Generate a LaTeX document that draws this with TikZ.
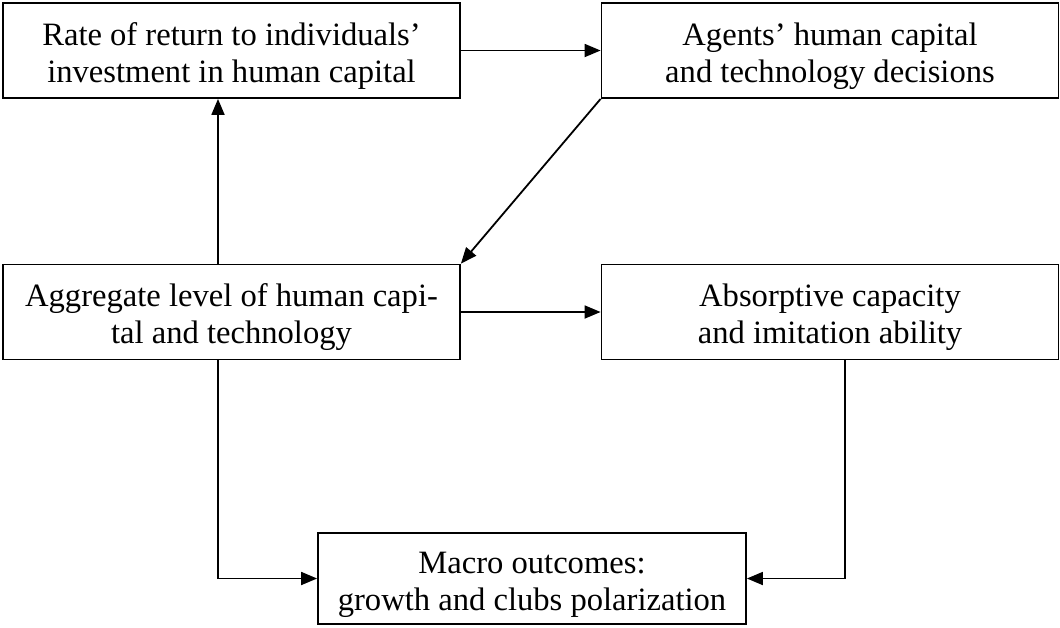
\documentclass[tikz,border=0pt]{standalone}
\usepackage{fontspec}
\setmainfont{Liberation Serif}
\usetikzlibrary{arrows.meta,positioning,calc}
\newcommand{\topgap}{\rule{0pt}{17pt}}

\begin{document}
\begin{tikzpicture}[
  x=0.5pt,y=-0.5pt,
  box/.style={rectangle,draw,line width=0.9pt,minimum width=228.5pt,
              minimum height=47.5pt,align=center,inner sep=0pt,
              font=\fontsize{16.3pt}{18.5pt}\selectfont},
  mbox/.style={box,minimum width=214pt,minimum height=45.5pt},
  arr/.style={-{Triangle[length=8pt,width=6.5pt]},line width=0.9pt}
]
\useasboundingbox (0,0) rectangle (1060,627);
\node[box] (ret) at (231.5,50.5) {\topgap Rate of return to individuals'\\investment in human capital};
\node[box] (dec) at (830,50.5) {\topgap Agents' human capital\\and technology decisions};
\node[box] (agg) at (231.5,312) {\topgap Aggregate level of human capi-\\tal and technology};
\node[box] (abs) at (830,312) {\topgap Absorptive capacity\\and imitation ability};
\node[mbox] (mac) at (532,578.5) {\topgap Macro outcomes:\\growth and clubs polarization};
\draw[arr] (ret)--(dec);
\draw[arr] (dec.south west)--(agg.north east);
\draw[arr] ([xshift=-6.75pt]agg.north)--([xshift=-6.75pt]ret.south);
\draw[arr] (agg)--(abs);
\draw[arr] ([xshift=-6.75pt]agg.south)|-(mac.west);
\draw[arr] ([xshift=7.5pt]abs.south)|-(mac.east);
\end{tikzpicture}
\end{document}
